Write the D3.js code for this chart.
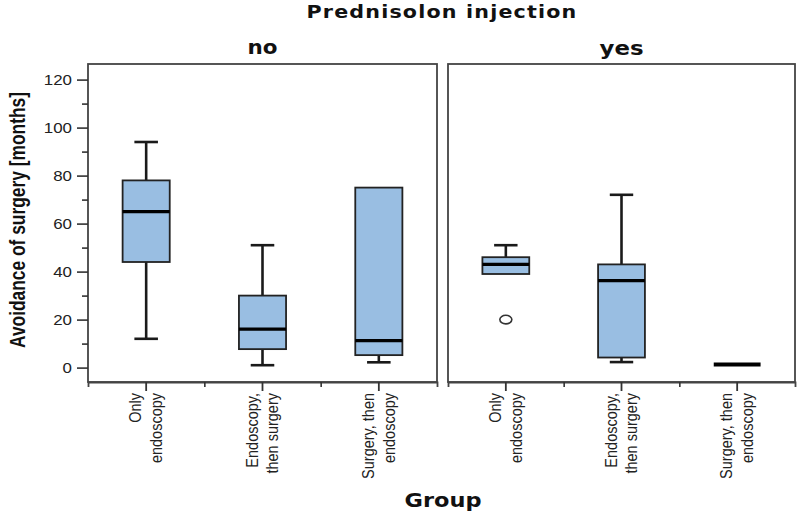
<!DOCTYPE html>
<html>
<head>
<meta charset="utf-8">
<script src="https://cdn.jsdelivr.net/npm/d3@7"></script>
<style>
  html, body { margin: 0; padding: 0; background: #ffffff; }
  svg { display: block; }
</style>
</head>
<body>
<div id="chart"></div>
<script>
// ---------------- data ----------------
const panels = ["no", "yes"];
const categories = ["Only endoscopy", "Endoscopy, then surgery", "Surgery, then endoscopy"];
const categoryLines = [["Only", "endoscopy"], ["Endoscopy,", "then surgery"], ["Surgery, then", "endoscopy"]];

// panel "no"
const noMin    = [12, 1, 2.2];
const noQ1     = [44, 7.7, 5.2];
const noMedian = [65, 16, 11.2];
const noQ3     = [78, 30, 75];
const noMax    = [94, 51, 75];

// panel "yes"
const yesMin    = [39, 2.3, 1.3];
const yesQ1     = [39, 4.2, 1.3];
const yesMedian = [43, 36.2, 1.3];
const yesQ3     = [46, 43, 1.3];
const yesMax    = [51, 72, 1.3];

// outliers
const outlierPanel = ["yes"];
const outlierCategory = ["Only endoscopy"];
const outlierValue = [20];

const yMajorTicks = [0, 20, 40, 60, 80, 100, 120];
const yMinorTicks = [10, 30, 50, 70, 90, 110];

const titleText = "Prednisolon injection";
const xTitle = "Group";
const yTitle = "Avoidance of surgery [months]";

// ---------------- layout ----------------
const W = 800, H = 517;
const plotTop = 64, plotBottom = 382;
const panelX = { no: [88, 437], yes: [448, 795] };

const svg = d3.select("#chart").append("svg").attr("width", W).attr("height", H);

const y = d3.scaleLinear().domain([-6, 126.5]).range([plotBottom, plotTop]);

const stats = {
  no:  categories.map((c, i) => ({ cat: c, min: noMin[i], q1: noQ1[i], med: noMedian[i], q3: noQ3[i], max: noMax[i] })),
  yes: categories.map((c, i) => ({ cat: c, min: yesMin[i], q1: yesQ1[i], med: yesMedian[i], q3: yesQ3[i], max: yesMax[i] }))
};

const boxFill = "#99bee2";
const dark = "#1a1a1a";

// title
svg.append("text")
  .attr("x", 442).attr("y", 18)
  .attr("text-anchor", "middle")
  .attr("font-family", "DejaVu Sans, Verdana, sans-serif")
  .attr("font-weight", "bold").attr("font-size", 17.5)
  .attr("letter-spacing", 1)
  .attr("textLength", 271).attr("lengthAdjust", "spacingAndGlyphs")
  .attr("fill", "#111")
  .text(titleText);

// x title
svg.append("text")
  .attr("x", 443).attr("y", 507)
  .attr("text-anchor", "middle")
  .attr("font-family", "DejaVu Sans, Verdana, sans-serif")
  .attr("font-weight", "bold").attr("font-size", 19)
  .attr("textLength", 77).attr("lengthAdjust", "spacingAndGlyphs")
  .attr("fill", "#111")
  .text(xTitle);

// y title
svg.append("text")
  .attr("transform", "translate(25,220) rotate(-90) scale(1,1.2)")
  .attr("text-anchor", "middle")
  .attr("font-family", "Liberation Sans, Arial, sans-serif")
  .attr("font-weight", "bold").attr("font-size", 19)
  .attr("textLength", 256).attr("lengthAdjust", "spacingAndGlyphs")
  .attr("fill", "#111")
  .text(yTitle);

panels.forEach((p, pi) => {
  const [x0, x1] = panelX[p];
  const x = d3.scaleBand().domain(categories).range([x0, x1]).padding(0);
  const bw = x.bandwidth() * 0.405;
  const cw = bw / 2;
  const g = svg.append("g");

  // panel label
  svg.append("text")
    .attr("x", (x0 + x1) / 2).attr("y", p === "no" ? 54 : 55)
    .attr("text-anchor", "middle")
    .attr("font-family", "DejaVu Sans, Verdana, sans-serif")
    .attr("font-weight", "bold").attr("font-size", 19)
    .attr("textLength", p === "no" ? 30 : 44).attr("lengthAdjust", "spacingAndGlyphs")
    .attr("fill", "#111")
    .text(p);

  // frame
  g.append("rect")
    .attr("x", x0).attr("y", plotTop)
    .attr("width", x1 - x0).attr("height", plotBottom - plotTop)
    .attr("fill", "none").attr("stroke", "#444").attr("stroke-width", 1.8);

  // x axis (major ticks at category centres)
  const xAxis = g.append("g").attr("transform", `translate(0,${plotBottom})`)
    .call(d3.axisBottom(x).tickSize(9).tickSizeOuter(5).tickFormat(""));
  xAxis.select(".domain").attr("stroke", "#444").attr("stroke-width", 1.8);
  xAxis.selectAll(".tick line").attr("stroke", "#333").attr("stroke-width", 1.8);
  xAxis.selectAll(".tick").each(function(d) {
    const lines = categoryLines[categories.indexOf(d)];
    const t = d3.select(this).append("text")
      .attr("transform", "translate(0,11) rotate(-90) scale(1,1.15)")
      .attr("text-anchor", "end")
      .attr("font-family", "Liberation Sans, Arial, sans-serif")
      .attr("font-size", 14.5)
      .attr("fill", "#222");
    t.append("tspan").attr("x", 0).attr("y", -4.3).text(lines[0]);
    t.append("tspan").attr("x", 0).attr("y", 13.9).text(lines[1]);
  });

  // minor x ticks at band boundaries
  const xb = d3.scaleLinear().domain([0, categories.length]).range([x0, x1]);
  const xMinor = g.append("g").attr("transform", `translate(0,${plotBottom})`)
    .call(d3.axisBottom(xb).tickValues(d3.range(1, categories.length)).tickSize(5).tickFormat(""));
  xMinor.select(".domain").remove();
  xMinor.selectAll(".tick line").attr("stroke", "#333").attr("stroke-width", 1.6);

  // y axis only on first panel
  if (pi === 0) {
    const yAxis = g.append("g").attr("transform", `translate(${x0},0)`)
      .call(d3.axisLeft(y).tickValues(yMajorTicks).tickSize(11).tickPadding(5));
    yAxis.select(".domain").remove();
    yAxis.selectAll(".tick line").attr("stroke", "#333").attr("stroke-width", 1.6);
    yAxis.selectAll(".tick text")
      .attr("font-family", "Liberation Sans, Arial, sans-serif")
      .attr("font-size", 14.5)
      .attr("fill", "#222")
      .attr("textLength", d => String(d).length * 9.4)
      .attr("lengthAdjust", "spacingAndGlyphs");
    const yMinor = g.append("g").attr("transform", `translate(${x0},0)`)
      .call(d3.axisLeft(y).tickValues(yMinorTicks).tickSize(6).tickFormat(""));
    yMinor.select(".domain").remove();
    yMinor.selectAll(".tick line").attr("stroke", "#333").attr("stroke-width", 1.6);
  }

  // boxes
  const boxes = g.selectAll(".box").data(stats[p]).enter().append("g").attr("class", "box");
  const cx = d => x(d.cat) + x.bandwidth() / 2;

  // whiskers
  boxes.filter(d => d.max > d.q3).append("line")
    .attr("x1", cx).attr("x2", cx)
    .attr("y1", d => y(d.q3)).attr("y2", d => y(d.max))
    .attr("stroke", dark).attr("stroke-width", 2.6);
  boxes.filter(d => d.max > d.q3).append("line")
    .attr("x1", d => cx(d) - cw / 2).attr("x2", d => cx(d) + cw / 2)
    .attr("y1", d => y(d.max)).attr("y2", d => y(d.max))
    .attr("stroke", dark).attr("stroke-width", 2.6);
  boxes.filter(d => d.min < d.q1).append("line")
    .attr("x1", cx).attr("x2", cx)
    .attr("y1", d => y(d.q1)).attr("y2", d => y(d.min))
    .attr("stroke", dark).attr("stroke-width", 2.6);
  boxes.filter(d => d.min < d.q1).append("line")
    .attr("x1", d => cx(d) - cw / 2).attr("x2", d => cx(d) + cw / 2)
    .attr("y1", d => y(d.min)).attr("y2", d => y(d.min))
    .attr("stroke", dark).attr("stroke-width", 2.6);

  // box
  boxes.filter(d => d.q3 > d.q1).append("rect")
    .attr("x", d => cx(d) - bw / 2).attr("width", bw)
    .attr("y", d => y(d.q3)).attr("height", d => y(d.q1) - y(d.q3))
    .attr("fill", boxFill).attr("stroke", "#222").attr("stroke-width", 1.8);

  // median
  boxes.append("line")
    .attr("x1", d => cx(d) - bw / 2).attr("x2", d => cx(d) + bw / 2)
    .attr("y1", d => y(d.med)).attr("y2", d => y(d.med))
    .attr("stroke", "#000").attr("stroke-width", d => d.q3 > d.q1 ? 3.2 : 4);

  // outliers
  outlierValue.forEach((v, i) => {
    if (outlierPanel[i] !== p) return;
    g.append("ellipse")
      .attr("cx", x(outlierCategory[i]) + x.bandwidth() / 2)
      .attr("cy", y(v))
      .attr("rx", 6).attr("ry", 4.3)
      .attr("fill", "#fff").attr("stroke", "#333").attr("stroke-width", 1.6);
  });
});
</script>
</body>
</html>
